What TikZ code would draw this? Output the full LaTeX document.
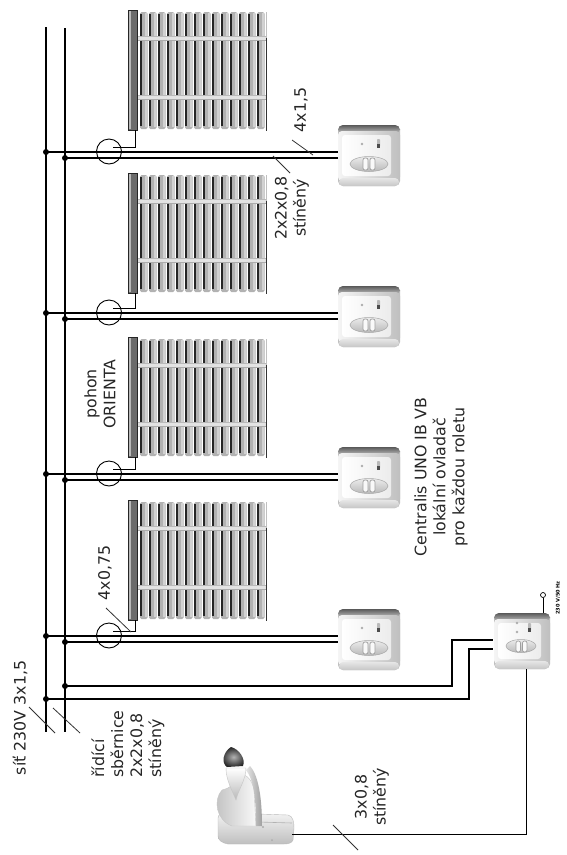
\documentclass[tikz,border=0pt]{standalone}
\usepackage{fontspec}
\setmainfont{DejaVu Sans}
\usetikzlibrary{calc}
\newcommand{\lblfont}{\fontsize{15.8}{19}\selectfont}
\newcommand{\freqfont}{\fontsize{5}{6}\selectfont\bfseries}

\tikzset{
  wire/.style={line width=1.2pt, black},
  cablemark/.style={line width=0.8pt, black!80},
  motor/.style={circle, draw=black, line width=0.9pt, minimum size=25pt, inner sep=0pt},
  lbl/.style={rotate=90, font=\lblfont, align=center, inner sep=0pt, text=black!85},
  devbox/.style={rectangle, minimum width=62pt, minimum height=62pt, inner sep=0pt},
  ctlbox/.style={rectangle, minimum width=57pt, minimum height=56pt, inner sep=0pt},
  % roller blind: origin = top-left corner of the motor tube
  blind/.pic={
    \foreach \k in {0,...,13}{
      \pgfmathsetmacro{\sx}{12+9*\k}
      \fill[gray!60, rounded corners=1.5pt] (\sx,2) rectangle ++(7.5,117);
      \fill[gray!35] (\sx+5,3) rectangle ++(2,114);
      \draw[black!85, line width=1.6pt] (\sx+1.2,4) -- ++(0,112);
    }
    \foreach \ry in {28,87}{
      \fill[gray!22] (9,\ry-1.8) rectangle (138,\ry+1.8);
      \draw[gray!65, line width=0.4pt] (9,\ry+1.8) -- (138,\ry+1.8);
      \draw[gray!55, line width=0.4pt] (9,\ry-1.8) -- (138,\ry-1.8);
    }
    \draw[gray!50, line width=0.8pt] (138.5,2) -- (138.5,28);
    \draw[black!80, line width=1pt] (138.5,28) -- (138.5,121);
    \draw[black!85, line width=0.7pt, fill=black!58] (0,0) rectangle (9,120);
    \fill[gray!55] (1,1) rectangle (2.8,119);
  },
  % wall-mounted local control unit: origin = centre
  localsw/.pic={
    \fill[gray!50, rounded corners=5pt] (-31,-30) rectangle (31,31);
    \shade[top color=black!65, bottom color=gray!40, rounded corners=5pt] (-31,-30) rectangle (31,-21);
    \shade[left color=gray!8, right color=gray!50, rounded corners=4pt] (-31,-24) rectangle (31,26);
    \shade[top color=gray!20, bottom color=gray!45, rounded corners=4pt] (-30,23) rectangle (30,31);
    \shade[left color=white, right color=gray!15, rounded corners=3pt] (-27,-20) rectangle (22,21);
    \fill[gray!65] (-7,-11) circle (1.4);
    \fill[gray!55, rounded corners=0.8pt] (8,-16) rectangle (11,-8);
    \fill[black!70] (8,-11) rectangle (11,-7);
    \shade[top color=gray!15, bottom color=gray!55, draw=gray!70, line width=0.5pt] (0,9) ellipse (19 and 7.5);
    \draw[gray!75, fill=gray!5, rounded corners=2pt, line width=0.7pt] (-6,3) rectangle (-1,15);
    \draw[gray!75, fill=gray!5, rounded corners=2pt, line width=0.7pt] (1,3) rectangle (6,15);
  },
  % central radio control unit: origin = centre
  centralsw/.pic={
    \fill[gray!50, rounded corners=5pt] (-28,-28) rectangle (28,28);
    \shade[top color=black!65, bottom color=gray!40, rounded corners=5pt] (-28,-28) rectangle (28,-19);
    \shade[left color=gray!8, right color=gray!50, rounded corners=4pt] (-28,-22) rectangle (28,23);
    \shade[top color=gray!20, bottom color=gray!45, rounded corners=4pt] (-27,20) rectangle (27,28);
    \shade[left color=white, right color=gray!15, rounded corners=3pt] (-24,-18) rectangle (19,18);
    \fill[gray!65] (-5,-18) circle (1.3);
    \fill[gray!65] (-5,-9) circle (1.3);
    \fill[gray!55, rounded corners=0.8pt] (6,-18) rectangle (9,-10);
    \fill[black!70] (6,-13) rectangle (9,-9);
    \shade[top color=gray!15, bottom color=gray!55, draw=gray!70, line width=0.5pt] (-1,5) ellipse (15 and 6.5);
    \draw[gray!75, fill=gray!5, rounded corners=2pt, line width=0.7pt] (-6,0) rectangle (-1.5,11);
    \draw[gray!75, fill=gray!5, rounded corners=2pt, line width=0.7pt] (0.5,0) rectangle (5,11);
  },
}

\begin{document}
\begin{tikzpicture}[x=1pt,y=-1pt]
\useasboundingbox (0,0) rectangle (567,855);
\fill[white] (0,0) rectangle (567,855);

% supply and bus lines
\coordinate (Ltop) at (46,27);  \coordinate (Lbot) at (46,732);
\coordinate (Rtop) at (65,28);  \coordinate (Rbot) at (65,732);
\draw[wire] (Ltop) -- (Lbot);
\draw[wire] (Rtop) -- (Rbot);

% four blinds, each with its motor and local control unit
\foreach \i/\c/\t in {1/152/10, 2/313/173, 3/474/337, 4/636/500}{
  \pic at (128,\t) {blind};
  \coordinate (tube\i) at (135,\t+120);
  \node[motor] (m\i) at (109,\c-0.5) {};
  \coordinate (tap\i) at (113,\c-4.5);
  \draw[line width=0.9pt] (tap\i) -| (tube\i);
  \node[devbox] (sw\i) at (369,\c+3) {};
  \coordinate (jL\i) at (46,\c);
  \coordinate (jR\i) at (65,\c+6);
  \draw[wire] (jL\i) -- (jL\i -| sw\i.west);
  \draw[wire] (jR\i) -- (jR\i -| sw\i.west);
  \fill (jL\i) circle (3);
  \fill (jR\i) circle (3);
  \pic at (sw\i.center) {localsw};
}

% central control unit
\node[ctlbox] (ctl) at (522,641) {};
\coordinate (jR5) at (65,686);
\coordinate (jL5) at (46,699);
\coordinate (k1) at (452,640);
\coordinate (k2) at (469,649);
\draw[wire] (jR5) -| (k1) -- (k1 -| ctl.west);
\draw[wire] (jL5) -| (k2) -- (k2 -| ctl.west);
\fill (jR5) circle (3);
\fill (jL5) circle (3);
\pic at (ctl.center) {centralsw};
\node[circle, draw, line width=0.7pt, minimum size=5pt, inner sep=0pt] (ant) at (543,595) {};
\draw[line width=0.8pt] (ant.south) -- (ant.south |- ctl.north);
\node[rotate=90, font=\freqfont, inner sep=0pt] (freq) at (558,598) {230 V/50 Hz};

% wind sensor
\node[inner sep=0pt, minimum width=80pt, minimum height=100pt] (sensor) at (255,795) {};
\shade[top color=gray!10, bottom color=gray!50, draw=gray!55, line width=0.4pt]
  (218,818) .. controls (218,814) and (222,813) .. (228,813) -- (288,815)
  .. controls (293,816) and (294,822) .. (294,828) -- (293,840)
  .. controls (292,843) and (288,844) .. (284,844) -- (228,844)
  .. controls (222,843) and (218,840) .. (218,836) -- cycle;
\draw[gray!60, line width=0.6pt] (258,822) -- (292,823);
\fill[gray!65] (263,827) circle (1.2);
\fill[gray!65] (272,840) circle (1);
\shade[left color=gray!50, right color=gray!5, draw=gray!45, line width=0.4pt]
  (222,790) .. controls (213,800) and (216,820) .. (232,826) -- (256,826) -- (254,790)
  .. controls (252,778) and (244,772) .. (238,776)
  .. controls (236,784) and (230,788) .. (222,790) -- cycle;
\shade[left color=gray!20, right color=gray!75]
  (246,770) .. controls (254,780) and (256,800) .. (256,826) -- (262,826)
  .. controls (262,800) and (259,776) .. (250,766) -- cycle;
\shade[top color=white, bottom color=gray!55, draw=gray!45, line width=0.4pt]
  (226,768) -- (246,768) .. controls (246,780) and (238,790) .. (236,800)
  .. controls (232,790) and (226,780) .. (226,768) -- cycle;
\shade[inner color=gray!60, outer color=black!85]
  (231,747) .. controls (223,752) and (221,763) .. (227,767) -- (243,766)
  .. controls (246,759) and (239,749) .. (231,747) -- cycle;
\coordinate (ctlout) at (526,669);
\coordinate (sensin) at (292,834);
\draw[line width=1pt] (ctlout) |- (sensin);

% cable cross-section marks
\draw[cablemark] (292,140) -- (313,155);
\draw[cablemark] (273,156) -- (290,173);
\draw[cablemark] (106,608) -- (131,632);
\draw[cablemark] (29,707) -- (55,733);
\draw[cablemark] (53,708) -- (80,733);
\draw[cablemark] (333,825) -- (358,850);

% labels
\node[lbl] (t41) at (301,110) {4x1,5};
\node[lbl] (t228) at (292,208) {2x2x0,8\\stíněný};
\node[lbl] (tmot) at (100,394) {pohon\\ORIENTA};
\node[lbl] (t475) at (105,573) {4x0,75};
\node[lbl] (tctl) at (441,477) {Centralis UNO IB VB\\lokální ovladač\\pro každou roletu};
\node[lbl] (tnet) at (20,718) {síť 230V 3x1,5};
\node[lbl, align=left] (tbus) at (128,744) {řídící\\sběrnice\\2x2x0,8\\stíněný};
\node[lbl] (t308) at (372,797) {3x0,8\\stíněný};
\end{tikzpicture}
\end{document}
